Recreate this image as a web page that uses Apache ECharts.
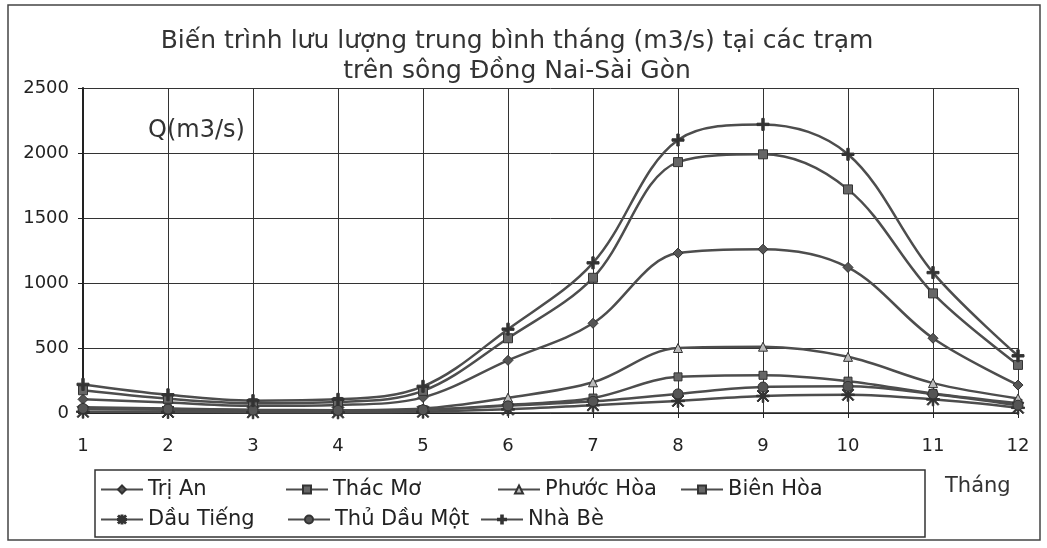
<!DOCTYPE html>
<html>
<head>
<meta charset="utf-8">
<script src="https://cdn.jsdelivr.net/npm/echarts@6/dist/echarts.min.js"></script>
<style>html,body{margin:0;padding:0;background:#fff;}#c{width:1047px;height:548px;}</style>
</head>
<body>
<div id="c"></div>
<script>
// ---- data ----
const titleLine1 = 'Biến trình lưu lượng trung bình tháng (m3/s) tại các trạm';
const titleLine2 = 'trên sông Đồng Nai-Sài Gòn';
const yUnitLabel = 'Q(m3/s)';
const xUnitLabel = 'Tháng';
const months = ['1','2','3','4','5','6','7','8','9','10','11','12'];
const yTicks = [0, 500, 1000, 1500, 2000, 2500];

const triAn     = [105, 80, 55, 62, 120, 405, 690, 1230, 1260, 1120, 575, 215];
const thacMo    = [30, 25, 20, 18, 25, 62, 115, 278, 290, 245, 150, 75];
const phuocHoa  = [45, 35, 25, 22, 35, 118, 236, 500, 510, 432, 230, 112];
const bienHoa   = [175, 110, 75, 85, 170, 575, 1040, 1930, 1990, 1720, 920, 370];
const dauTieng  = [10, 8, 6, 5, 10, 28, 60, 93, 131, 140, 105, 40];
const thuDauMot = [35, 30, 22, 20, 25, 55, 90, 147, 200, 205, 147, 60];
const nhaBe     = [220, 140, 95, 105, 205, 645, 1155, 2100, 2220, 1990, 1080, 440];

const seriesNames = ['Trị An','Thác Mơ','Phước Hòa','Biên Hòa','Dầu Tiếng','Thủ Dầu Một','Nhà Bè'];
const seriesValues = [triAn, thacMo, phuocHoa, bienHoa, dauTieng, thuDauMot, nhaBe];

// ---- styling / layout ----
const FONT = 'DejaVu Sans';
const PLUS = 'path://M4,0 L6,0 L6,4 L10,4 L10,6 L6,6 L6,10 L4,10 L4,6 L0,6 L0,4 L4,4 Z';
const STAR = 'path://M4.4,0 L5.6,0 L5.6,10 L4.4,10 Z M1.2,0.4 L9.6,8.8 L8.8,9.6 L0.4,1.2 Z M8.8,0.4 L9.6,1.2 L1.2,9.6 L0.4,8.8 Z M0,4.4 L10,4.4 L10,5.6 L0,5.6 Z';
const symbols = [
  {s:'diamond', size:10, fill:'#555'},
  {s:'rect', size:8, fill:'#666'},
  {s:'triangle', size:9, fill:'#bbb'},
  {s:'rect', size:9, fill:'#666'},
  {s:STAR, size:13, fill:'#333'},
  {s:'circle', size:10, fill:'#555'},
  {s:PLUS, size:12, fill:'#333'}
];
const legendPos = [
  [100, 479], [285, 479], [497, 479], [680, 479],
  [100, 509], [287, 509], [480, 509]
];

const series = seriesNames.map((n, i) => ({
  name: n,
  type: 'line',
  data: seriesValues[i],
  smooth: 0.35,
  symbol: symbols[i].s,
  symbolSize: symbols[i].size,
  showSymbol: true,
  lineStyle: {color: '#4d4d4d', width: 2.5},
  itemStyle: {color: symbols[i].fill, borderColor: '#333', borderWidth: 1}
}));

const legends = seriesNames.map((n, i) => ({
  data: [n],
  left: legendPos[i][0],
  top: legendPos[i][1],
  padding: 0,
  itemWidth: 42,
  itemHeight: 10,
  itemGap: 0,
  selectedMode: false,
  textStyle: {fontFamily: FONT, fontSize: 21, color: '#222'}
}));

const chart = echarts.init(document.getElementById('c'), null, {renderer: 'canvas'});
chart.setOption({
  backgroundColor: '#fff',
  animation: false,
  title: {
    text: titleLine1 + '\n' + titleLine2,
    left: 512, top: 21, textAlign: 'center',
    textStyle: {fontFamily: FONT, fontSize: 25, lineHeight: 30, fontWeight: 'normal', color: '#333'}
  },
  grid: {left: 83, right: 29, top: 88, bottom: 135},
  xAxis: {
    type: 'category', data: months, boundaryGap: false,
    axisLine: {lineStyle: {color: '#222', width: 1.5}},
    axisTick: {show: true, length: 5, lineStyle: {color: '#222'}},
    axisLabel: {margin: 24, fontFamily: FONT, fontSize: 18, color: '#222'},
    splitLine: {show: true, lineStyle: {color: '#333', width: 1}}
  },
  yAxis: {
    type: 'value', min: yTicks[0], max: yTicks[yTicks.length - 1], interval: yTicks[1] - yTicks[0],
    axisLine: {show: true, lineStyle: {color: '#222', width: 2}},
    axisTick: {show: true, length: 5, lineStyle: {color: '#222'}},
    axisLabel: {margin: 14, fontFamily: FONT, fontSize: 18, color: '#222', formatter: v => String(v)},
    splitLine: {show: true, lineStyle: {color: '#333', width: 1}}
  },
  legend: legends,
  graphic: [
    {type: 'rect', shape: {x: 8, y: 5, width: 1032, height: 535}, style: {fill: 'none', stroke: '#444', lineWidth: 1.5}, silent: true},
    {type: 'rect', shape: {x: 95, y: 470, width: 830, height: 67}, style: {fill: 'none', stroke: '#333', lineWidth: 1.5}, silent: true},
    {type: 'text', left: 148, top: 119, style: {text: yUnitLabel, fontFamily: FONT, fontSize: 24, fill: '#333'}},
    {type: 'text', left: 945, top: 476, style: {text: xUnitLabel, fontFamily: FONT, fontSize: 21, fill: '#333'}}
  ],
  series: series
});
</script>
</body>
</html>
